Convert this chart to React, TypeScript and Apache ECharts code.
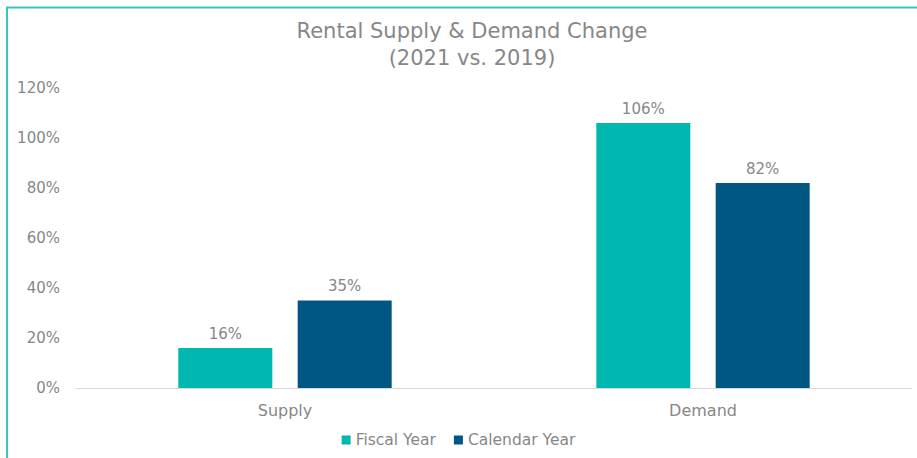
import React, { useEffect, useRef } from "react";
import * as echarts from "echarts";

const categories = ["Supply", "Demand"];
const fiscalYear = [16, 106];
const calendarYear = [35, 82];
const seriesNames = ["Fiscal Year", "Calendar Year"];
const titleLines = ["Rental Supply & Demand Change", "(2021 vs. 2019)"];

const FONT = "'DejaVu Sans', 'Noto Sans', sans-serif";
const GRAY = "#878787";

export default function App() {
  const ref = useRef<HTMLDivElement>(null);
  useEffect(() => {
    if (!ref.current) return;
    const chart = echarts.init(ref.current, undefined, { renderer: "svg" });
    chart.setOption({
      animation: false,
      backgroundColor: "#ffffff",
      title: {
        text: titleLines.join("\n"),
        left: 467,
        textAlign: "center",
        top: 12,
        textStyle: {
          fontFamily: FONT,
          fontSize: 21,
          fontWeight: "normal",
          color: GRAY,
          lineHeight: 27,
        },
      },
      legend: {
        data: seriesNames,
        bottom: 5,
        left: "center",
        itemWidth: 9,
        itemHeight: 9,
        itemGap: 18,
        icon: "rect",
        textStyle: { fontFamily: FONT, fontSize: 15.5, color: GRAY },
      },
      grid: { left: 76, right: 5, top: 88, bottom: 70, containLabel: false },
      xAxis: {
        type: "category",
        data: categories,
        axisLine: { lineStyle: { color: "#d9d9d9", width: 1 } },
        axisTick: { show: false },
        axisLabel: { fontFamily: FONT, fontSize: 16, color: GRAY, margin: 14 },
      },
      yAxis: {
        type: "value",
        min: 0,
        max: 120,
        interval: 20,
        splitLine: { show: false },
        axisLine: { show: false },
        axisTick: { show: false },
        axisLabel: {
          fontFamily: FONT,
          fontSize: 15,
          color: GRAY,
          margin: 16,
          formatter: (v: number) => v + "%",
        },
      },
      series: [
        {
          name: seriesNames[0],
          type: "bar",
          data: fiscalYear,
          barWidth: 94,
          barGap: "27%",
          itemStyle: { color: "#00b8b0" },
          label: {
            show: true,
            position: "top",
            distance: 7,
            fontFamily: FONT,
            fontSize: 15,
            color: GRAY,
            formatter: (p: any) => p.value + "%",
          },
        },
        {
          name: seriesNames[1],
          type: "bar",
          data: calendarYear,
          barWidth: 94,
          barGap: "27%",
          itemStyle: { color: "#005783" },
          label: {
            show: true,
            position: "top",
            distance: 7,
            fontFamily: FONT,
            fontSize: 15,
            color: GRAY,
            formatter: (p: any) => p.value + "%",
          },
        },
      ],
      graphic: [
        {
          type: "polyline",
          shape: { points: [[7, 458], [7, 7.5], [917, 7.5]] },
          style: { stroke: "#3cc4be", lineWidth: 2, fill: "none" },
          silent: true,
        },
      ],
    });
    return () => chart.dispose();
  }, []);
  return (
    <div
      ref={ref}
      style={{ position: "fixed", left: 0, top: 0, width: 917, height: 458 }}
    />
  );
}
